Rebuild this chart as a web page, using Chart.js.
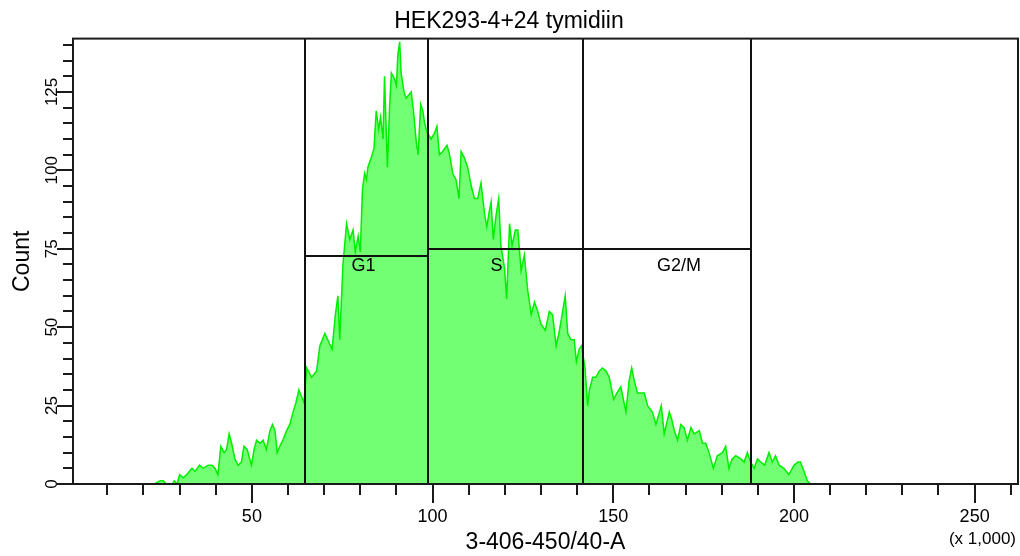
<!DOCTYPE html>
<html>
<head>
<meta charset="utf-8">
<script src="https://cdn.jsdelivr.net/npm/chart.js"></script>
<style>
  body { margin: 0; background: #fff; }
  #wrap { width: 1020px; height: 556px; position: relative; }
</style>
</head>
<body>
<div id="wrap"><canvas id="histChart"></canvas></div>
<script>
// channel (x 1,000) and count
const channels = [
  23, 24.6, 25.5, 26.3, 28, 28.5, 29.3, 30, 31, 32, 33.4, 34.3, 35.5, 36.5, 37.9, 39, 39.8, 40.6,
  41.4, 42.3, 43, 43.7, 44.4, 45.3, 46.2, 47.1, 47.8, 48.7, 49.4, 49.9, 50.6, 51.3, 52.2, 53.1,
  54, 55, 55.7, 56.4, 57, 57.7, 58.6, 59.6, 60.5, 61.4, 62.2, 63, 63.7, 64.4, 65.2, 66.5, 67.9,
  68.8, 70.2, 71, 72.2, 73.1, 73.8, 74.3, 75.2, 76.2, 77.1, 78, 78.6, 79.4, 80, 80.6, 81.2, 81.7,
  82.1, 83, 83.8, 84.4, 85.1, 85.6, 86.3, 86.7, 87.5, 88.1, 88.6, 89.5, 90, 90.4, 90.9, 91.3,
  92.1, 92.7, 93.4, 94.1, 94.8, 95.5, 96, 96.7, 97.3, 97.8, 98.5, 99.6, 100.6, 101.2, 101.9,
  102.8, 104, 104.7, 105.6, 106.5, 107.3, 107.9, 108.8, 109.7, 110.7, 111.6, 112.5, 113.4, 114.4,
  115, 115.7, 116.2, 116.8, 117.6, 118.3, 118.9, 119.9, 120.5, 121.3, 122, 122.9, 123.6, 124.5,
  125.4, 126.3, 127.3, 128.2, 129.1, 130, 131.2, 132.3, 133.2, 134.2, 135.1, 136, 136.7, 137.4,
  138.3, 139.2, 139.8, 140.6, 141.2, 142.2, 142.9, 143.4, 144.3, 145.2, 146.1, 147, 148, 148.9,
  150.1, 151, 152.1, 152.8, 153.5, 154.4, 155.1, 155.8, 156.7, 158.6, 159.5, 160.8, 161.8, 163.3,
  164.1, 165.5, 166.1, 166.9, 167.8, 168.7, 169.6, 170.5, 171.5, 172.4, 173.8, 174.7, 175.6,
  176.5, 177.7, 178.8, 180.2, 181.1, 182, 182.9, 183.9, 185.3, 186.2, 187.1, 188, 189, 189.9,
  190.8, 191.9, 193.1, 194, 194.9, 195.9, 197.2, 198.6, 200, 201.1, 201.8, 202.8, 203.7, 204.6
];
const counts = [
  0, 1, 1, 0, 0, 1, 0, 3, 2, 3, 5, 4, 6, 5, 6, 6, 5, 3,
  12, 10, 11, 16, 13, 8, 6, 7, 12, 11, 8, 6, 11, 14, 13, 14,
  11, 17, 19, 17, 10, 12, 14, 17, 19, 23, 26, 30, 28, 26, 37, 34, 36,
  44, 48, 46, 43, 54, 60, 46, 70, 83, 78, 81, 74, 79, 74, 94, 99, 97,
  101, 104, 107, 119, 113, 117, 110, 130, 101, 120, 131, 129, 127, 137, 141, 131,
  125, 123, 124, 125, 118, 109, 105, 121, 119, 115, 112, 110, 112, 114, 105,
  106, 108, 105, 99, 97, 91, 106, 104, 101, 95, 91, 91, 96, 86,
  82, 87, 90, 78, 86, 91, 76, 69, 59, 83, 76, 81, 81, 68,
  73, 62, 54, 58, 55, 51, 49, 55, 54, 44, 49, 55, 60, 48,
  46, 46, 39, 43, 44, 37, 25, 30, 34, 34, 36, 37, 36, 34,
  27, 29, 31, 27, 23, 33, 37, 33, 29, 29, 25, 23, 19, 25,
  16, 23, 21, 17, 14, 19, 18, 14, 18, 16, 17, 13, 13,
  10, 5, 9, 10, 12, 5, 8, 9, 8, 7, 10, 7, 5, 8,
  7, 6, 10, 7, 9, 6, 5, 3, 6, 7, 7, 4, 1, 0
];

// axes
const xMajor = [50, 100, 150, 200, 250];
const yMajor = [0, 25, 50, 75, 100, 125];

// cell cycle gates
const gateNames = ['G1', 'S', 'G2/M'];
const gateEdges = [64.6, 98.6, 141.7, 188.1];
const gateLevels = [72.6, 74.8, 74.8];
const gateLabelX = [80.9, 117.7, 168.2];
const gateLabelY = 69.4;

const points = channels.map((c, i) => ({ x: c, y: counts[i] }));

const overlay = {
  id: 'overlay',
  afterDatasetsDraw(chart) {
    const { ctx, chartArea: a, scales: { x, y } } = chart;
    ctx.save();
    ctx.strokeStyle = '#111';
    ctx.fillStyle = '#000';
    ctx.lineWidth = 2;

    // gates
    ctx.beginPath();
    gateEdges.forEach(v => {
      const px = Math.round(x.getPixelForValue(v));
      ctx.moveTo(px, a.top);
      ctx.lineTo(px, a.bottom);
    });
    gateLevels.forEach((lv, i) => {
      const py = Math.round(y.getPixelForValue(lv));
      ctx.moveTo(x.getPixelForValue(gateEdges[i]), py);
      ctx.lineTo(x.getPixelForValue(gateEdges[i + 1]), py);
    });
    ctx.stroke();

    ctx.font = '18px "Liberation Sans", Arial, sans-serif';
    ctx.textAlign = 'center';
    ctx.textBaseline = 'middle';
    gateNames.forEach((n, i) => {
      ctx.fillText(n, x.getPixelForValue(gateLabelX[i]), y.getPixelForValue(gateLabelY));
    });

    // frame
    ctx.strokeStyle = '#1a1a1a';
    ctx.strokeRect(a.left, a.top, a.right - a.left, a.bottom - a.top);

    // tick marks
    ctx.beginPath();
    for (let v = 10; v <= 260; v += 10) {
      const px = Math.round(x.getPixelForValue(v));
      const len = xMajor.includes(v) ? 19 : 11;
      ctx.moveTo(px, a.bottom);
      ctx.lineTo(px, a.bottom + len);
    }
    for (let v = 0; v <= 140; v += 5) {
      const py = Math.round(y.getPixelForValue(v));
      const len = yMajor.includes(v) ? 16 : 10;
      ctx.moveTo(a.left, py);
      ctx.lineTo(a.left - len, py);
    }
    ctx.stroke();

    // y tick labels, vertical
    ctx.font = '17px "Liberation Sans", Arial, sans-serif';
    ctx.textAlign = 'center';
    ctx.textBaseline = 'alphabetic';
    yMajor.forEach(v => {
      ctx.save();
      ctx.translate(a.left - 16, y.getPixelForValue(v));
      ctx.rotate(-Math.PI / 2);
      ctx.fillText(String(v), 0, 0);
      ctx.restore();
    });

    ctx.font = '17px "Liberation Sans", Arial, sans-serif';
    ctx.textAlign = 'right';
    ctx.textBaseline = 'middle';
    ctx.fillText('(x 1,000)', a.right - 2, a.bottom + 55);
    ctx.restore();
  }
};

new Chart(document.getElementById('histChart'), {
  type: 'line',
  data: {
    datasets: [{
      data: points,
      borderColor: 'rgb(0, 238, 0)',
      backgroundColor: 'rgb(115, 255, 115)',
      borderWidth: 1.5,
      pointRadius: 0,
      tension: 0,
      fill: 'origin'
    }]
  },
  options: {
    responsive: true,
    maintainAspectRatio: false,
    animation: false,
    layout: { padding: { top: 0, right: 2, left: 0, bottom: 0 } },
    plugins: {
      legend: { display: false },
      tooltip: { enabled: false },
      title: {
        display: true,
        text: 'HEK293-4+24 tymidiin',
        color: '#000',
        font: { family: '"Liberation Sans", Arial, sans-serif', size: 23, weight: 'normal' },
        padding: { top: 8, bottom: 3 }
      }
    },
    scales: {
      x: {
        type: 'linear',
        min: 0.5,
        max: 262,
        grid: { display: false, drawTicks: false },
        border: { display: false },
        afterBuildTicks: s => { s.ticks = xMajor.map(v => ({ value: v })); },
        afterFit: s => { s.height = 72; },
        ticks: {
          color: '#000',
          padding: 22,
          maxRotation: 0,
          font: { family: '"Liberation Sans", Arial, sans-serif', size: 18 }
        },
        title: {
          display: true,
          text: '3-406-450/40-A',
          color: '#000',
          font: { family: '"Liberation Sans", Arial, sans-serif', size: 23 },
          padding: { top: 0, bottom: 0 }
        }
      },
      y: {
        min: 0,
        max: 142,
        grid: { display: false, drawTicks: false },
        border: { display: false },
        ticks: { display: false },
        afterFit: s => { s.width = 73; },
        title: {
          display: true,
          text: 'Count',
          color: '#000',
          font: { family: '"Liberation Sans", Arial, sans-serif', size: 23 },
          padding: { top: 9, bottom: 0 }
        }
      }
    }
  },
  plugins: [overlay]
});
</script>
</body>
</html>
